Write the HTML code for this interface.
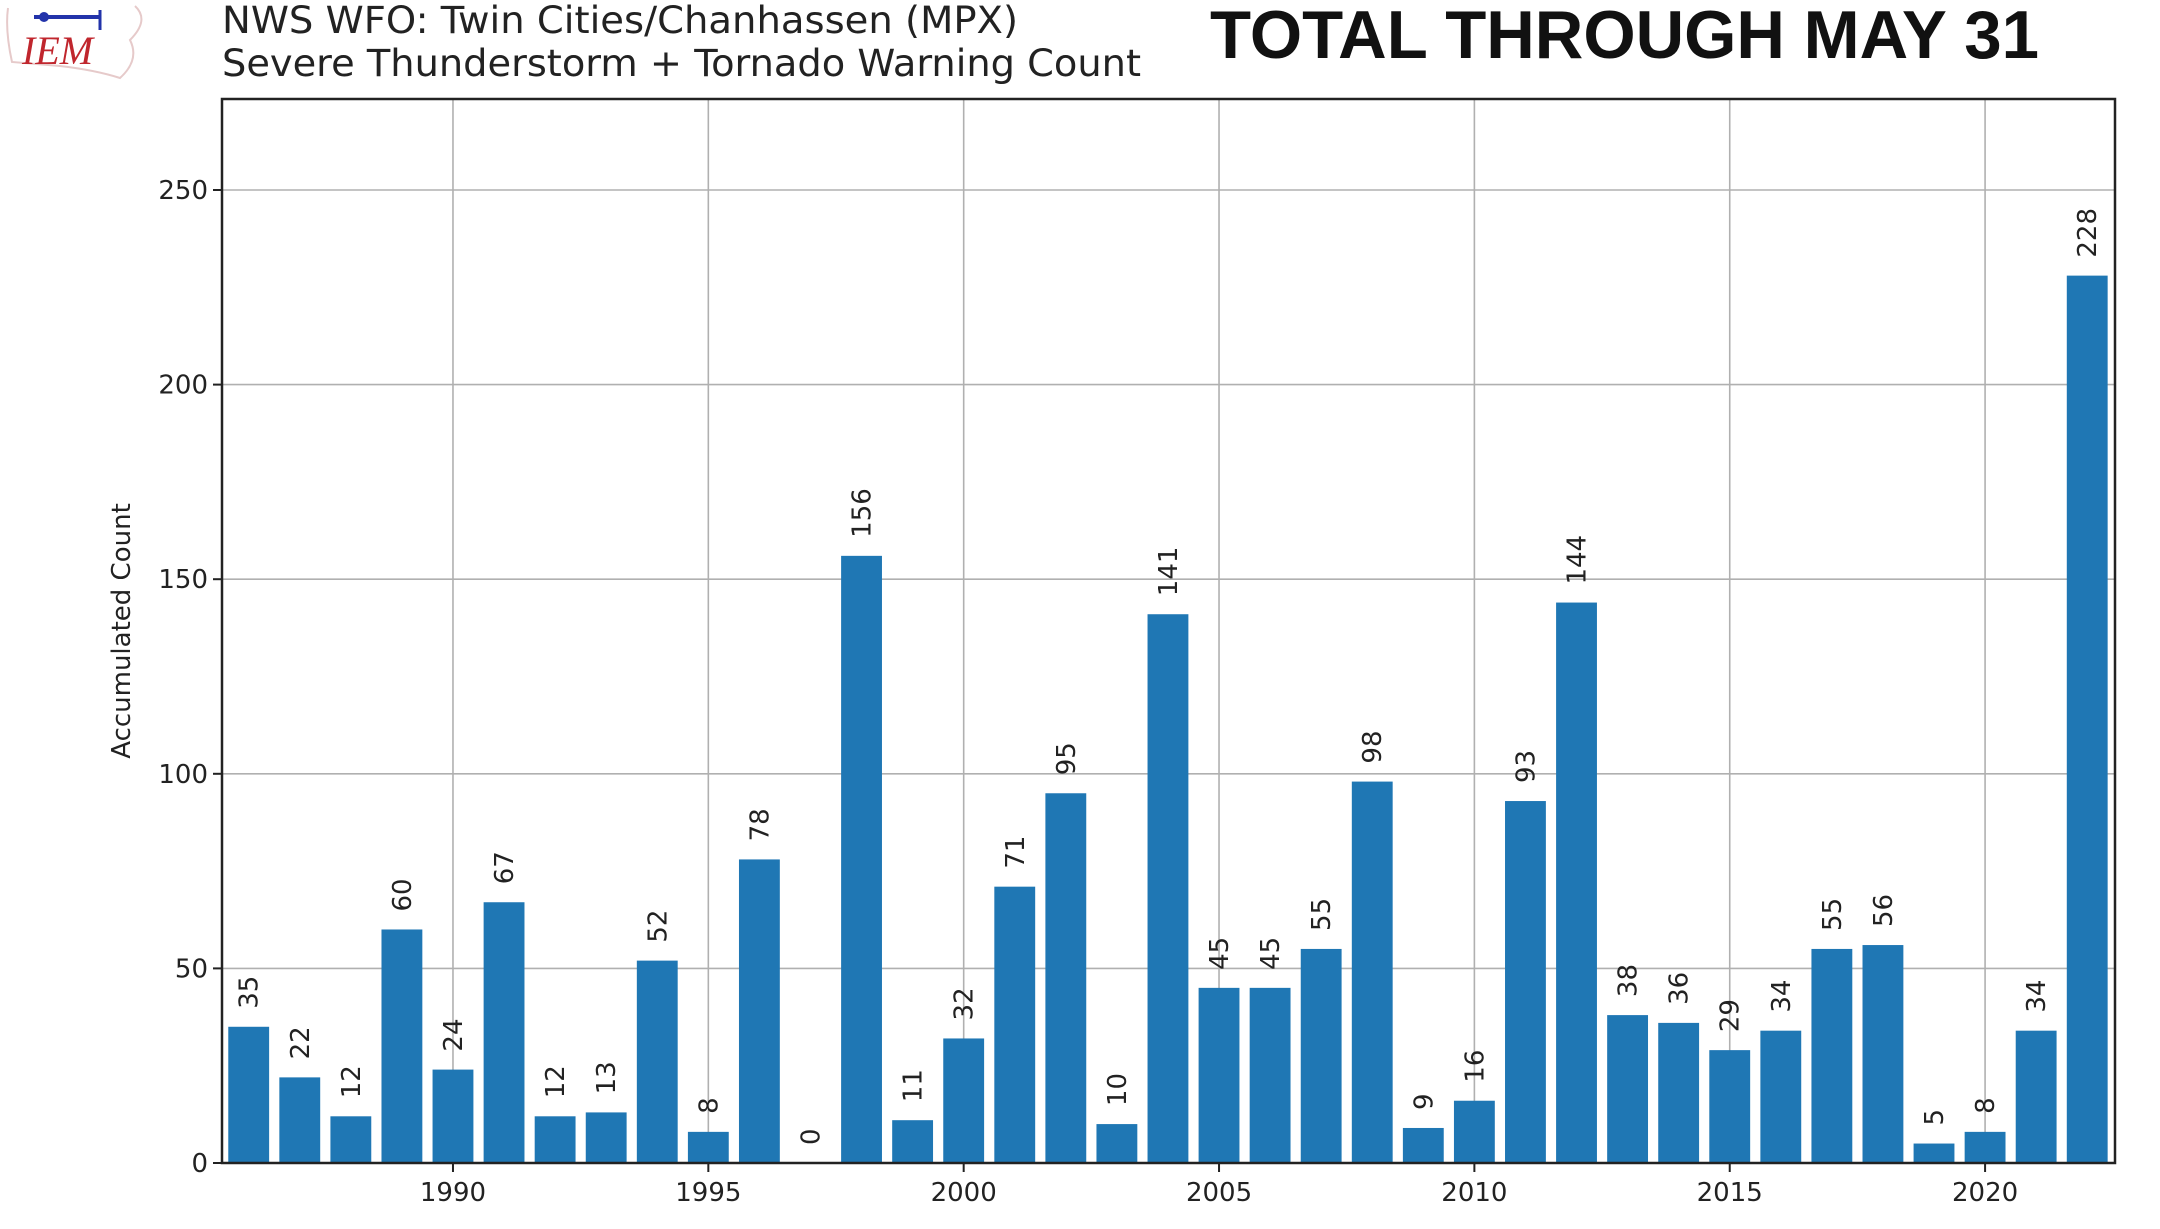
<!DOCTYPE html>
<html><head><meta charset="utf-8"><style>
html,body{margin:0;padding:0;background:#fff;}
svg{display:block;}
text{font-family:"DejaVu Sans","Liberation Sans",sans-serif;fill:#222;}
</style></head><body>
<svg id="c" width="2160" height="1229" xmlns="http://www.w3.org/2000/svg">
<g>
<path d="M8 8 Q5 30 12 62 L60 66 Q95 70 120 78 Q140 60 130 40 Q150 20 135 6" fill="none" stroke="#e6caca" stroke-width="2"/>
<line x1="34" y1="17" x2="100" y2="17" stroke="#2233aa" stroke-width="4"/>
<circle cx="44" cy="17" r="5" fill="#2233aa"/>
<line x1="100" y1="10" x2="100" y2="30" stroke="#2233aa" stroke-width="3"/>
<text x="22" y="64" font-family="Liberation Serif,serif" font-style="italic" font-size="40" style="fill:#c0262d;font-family:'Liberation Serif',serif">IEM</text>
</g>
<text x="222" y="33" font-size="37" textLength="796" lengthAdjust="spacingAndGlyphs">NWS WFO: Twin Cities/Chanhassen (MPX)</text>
<text x="222" y="76" font-size="37" textLength="919" lengthAdjust="spacingAndGlyphs">Severe Thunderstorm + Tornado Warning Count</text>
<text x="1210" y="58" font-size="68" font-weight="bold" textLength="829" lengthAdjust="spacingAndGlyphs" style="fill:#111;font-family:'Liberation Sans',sans-serif">TOTAL THROUGH MAY 31</text>
<text transform="translate(130,631) rotate(-90)" text-anchor="middle" font-size="26">Accumulated Count</text>
<g id="plot"></g>
</svg>
<script>
var vals=[35,22,12,60,24,67,12,13,52,8,78,0,156,11,32,71,95,10,141,45,45,55,98,9,16,93,144,38,36,29,34,55,56,5,8,34,228];
var L=222,R=2115,T=99,B=1163,py=3.892,px=51.07,x0=248.7;
var s='';
function X(i){return x0+i*px;}
function Y(v){return B-v*py;}
// grid
for(var v=0;v<=250;v+=50){var y=Y(v);s+='<line x1="'+L+'" y1="'+y+'" x2="'+R+'" y2="'+y+'" stroke="#b0b0b0" stroke-width="1.6"/>';
s+='<line x1="'+(L-9)+'" y1="'+y+'" x2="'+L+'" y2="'+y+'" stroke="#222" stroke-width="2"/>';
s+='<text x="'+(L-14)+'" y="'+(y+9)+'" text-anchor="end" font-size="26">'+v+'</text>';}
for(var yr=1990;yr<=2020;yr+=5){var x=X(yr-1986);s+='<line x1="'+x+'" y1="'+T+'" x2="'+x+'" y2="'+B+'" stroke="#b0b0b0" stroke-width="1.6"/>';
s+='<line x1="'+x+'" y1="'+B+'" x2="'+x+'" y2="'+(B+9)+'" stroke="#222" stroke-width="2"/>';
s+='<text x="'+x+'" y="1201" text-anchor="middle" font-size="26">'+yr+'</text>';}
var bw=0.8*px;
for(var i=0;i<vals.length;i++){var x=X(i),v=vals[i];
if(v>0)s+='<rect x="'+(x-bw/2)+'" y="'+Y(v)+'" width="'+bw+'" height="'+(v*py)+'" fill="#1f77b4"/>';
s+='<text transform="translate('+(x+9)+','+(Y(v)-18)+') rotate(-90)" font-size="26">'+v+'</text>';}
s+='<rect x="'+L+'" y="'+T+'" width="'+(R-L)+'" height="'+(B-T)+'" fill="none" stroke="#222" stroke-width="2.5"/>';
document.getElementById('plot').innerHTML=s;
</script>
</body></html>
